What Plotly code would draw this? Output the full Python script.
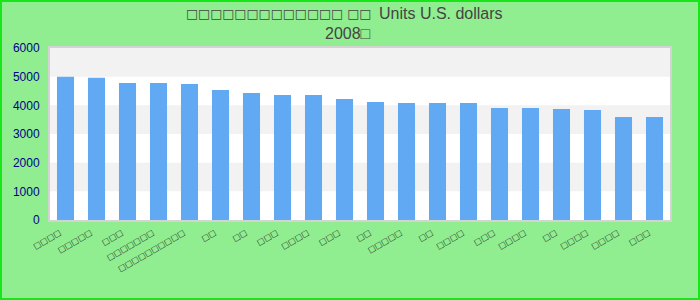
import plotly.graph_objects as go

# Category labels (rendered as missing-glyph boxes in the reference)
box_counts = [4, 5, 3, 7, 10, 2, 2, 3, 4, 3, 2, 5, 2, 4, 3, 4, 2, 4, 4, 3]
categories = ["□" * n for n in box_counts]
values = [5000, 4960, 4780, 4780, 4745, 4535, 4430, 4360, 4360, 4220,
          4115, 4080, 4080, 4080, 3905, 3905, 3870, 3835, 3590, 3590]
y_ticks = [0, 1000, 2000, 3000, 4000, 5000, 6000]
title_boxes = "□□□□□□□□□□□□□ □□"
title_rest = "Units U.S. dollars"
title_line2 = "2008□"

positions = list(range(len(categories)))

fig = go.Figure()
fig.add_trace(go.Bar(
    x=positions, y=values,
    marker=dict(color="#62A9F4", line=dict(width=0)),
    width=0.55,
    hoverinfo="x+y",
))

W, H = 700, 300
ml, mr, mt, mb = 50, 30, 48, 80
pw, ph = W - ml - mr, H - mt - mb

def px_x(x):
    return (x - ml) / pw

def px_y(y):
    return 1 - (y - mt) / ph

shapes = []
# alternating bands
for i in range(len(y_ticks) - 1):
    if i % 2 == 1:
        shapes.append(dict(type="rect", xref="paper", yref="y", x0=0, x1=1,
                           y0=y_ticks[i], y1=y_ticks[i + 1],
                           fillcolor="#F2F2F2", line=dict(width=0), layer="below"))
# outer figure border
shapes.append(dict(type="rect", xref="paper", yref="paper",
                   x0=px_x(1), x1=px_x(W - 1), y0=px_y(H - 1), y1=px_y(1),
                   line=dict(color="#19E619", width=2), fillcolor="rgba(0,0,0,0)",
                   layer="above"))

title_color = "#444444"
annotations = [
    dict(text=title_boxes, xref="paper", yref="paper", x=px_x(373), y=px_y(13),
         xanchor="right", yanchor="middle", showarrow=False,
         font=dict(family="DejaVu Sans", size=12.8, color=title_color)),
    dict(text=title_rest, xref="paper", yref="paper", x=px_x(377), y=px_y(13),
         xanchor="left", yanchor="middle", showarrow=False,
         font=dict(family="Liberation Sans, Arial, sans-serif", size=16, color=title_color)),
    dict(text=title_line2, xref="paper", yref="paper", x=px_x(348), y=px_y(33),
         xanchor="center", yanchor="middle", showarrow=False,
         font=dict(family="Liberation Sans, DejaVu Sans, sans-serif", size=16, color=title_color)),
]

fig.update_layout(
    width=W, height=H,
    margin=dict(l=ml, r=mr, t=mt, b=mb, pad=0, autoexpand=False),
    paper_bgcolor="#90EE90",
    plot_bgcolor="#FFFFFF",
    showlegend=False,
    shapes=shapes,
    bargap=0.45,
    annotations=annotations,
)
fig.update_xaxes(
    tickmode="array", tickvals=positions, ticktext=categories,
    tickangle=-30, range=[-0.5, len(categories) - 0.5],
    showgrid=False, zeroline=False, automargin=False,
    showline=True, linecolor="#D3D3D3", linewidth=2, mirror=True,
    ticks="outside", ticklen=3, tickcolor="rgba(0,0,0,0)",
    ticklabelshift=-6,
    tickfont=dict(family="DejaVu Sans", size=8, color="#222222"),
)
fig.update_yaxes(
    range=[0, 6000], tickmode="array", tickvals=y_ticks,
    showgrid=False, zeroline=False, automargin=False,
    showline=True, linecolor="#D3D3D3", linewidth=2, mirror=True,
    ticks="outside", ticklen=6, tickcolor="rgba(0,0,0,0)",
    tickfont=dict(family="Liberation Sans, Arial, sans-serif", size=12, color="#00008B"),
)

fig.write_html("out.html")
